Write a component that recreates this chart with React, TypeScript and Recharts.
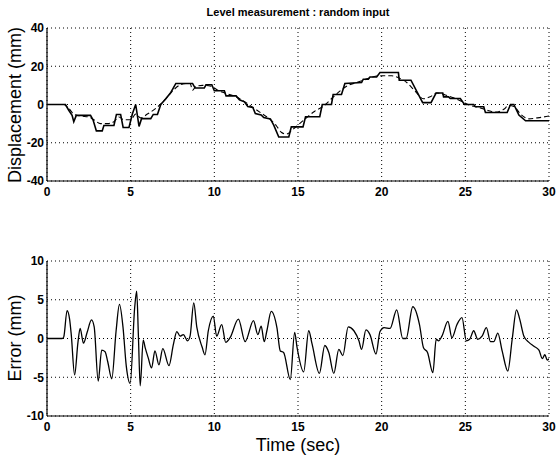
import { LineChart, Line, XAxis, YAxis, CartesianGrid } from 'recharts'

// time (s), displacement (mm) - measured level (stepwise solid line)
const measured: [number, number][] = [
  [0, 0], [1.1, 0], [1.3, -3], [1.5, -5.7], [1.6, -9], [1.75, -5.7], [2.6, -5.7], [2.75, -8],
  [2.95, -13.8], [3.3, -13.8], [3.4, -11], [4.0, -11], [4.15, -5.2], [4.4, -5.2], [4.55, -12],
  [4.9, -12], [5.1, -5], [5.3, 0], [5.5, -11.5], [5.65, -7.4], [6.2, -7.4], [6.35, -5.2],
  [6.6, -5.2], [6.8, 0], [7.1, 3], [7.4, 6.3], [7.7, 11], [8.7, 11], [8.85, 8.6], [9.4, 8.6],
  [9.5, 10.3], [9.85, 10.3], [10.0, 7.2], [10.6, 7.2], [10.7, 4.5], [11.3, 4.5], [11.5, 2.5],
  [11.8, 1.4], [12.0, -1], [12.3, -1.6], [12.45, -4.7], [12.8, -5.5], [12.95, -6.8], [13.35, -7.5],
  [13.55, -10.8], [13.85, -17], [14.45, -17], [14.6, -11.7], [15.3, -11.7], [15.45, -6.4],
  [16.3, -6.4], [16.45, 0], [17.0, 0], [17.1, 5.2], [17.6, 5.2], [17.8, 11], [18.8, 11.5],
  [18.9, 13.2], [19.2, 13.2], [19.3, 14.4], [19.7, 14.4], [19.9, 16.7], [21.0, 16.7], [21.05, 12.7],
  [21.75, 12.7], [22.45, 1], [22.95, 1], [23.25, 6], [23.65, 6], [23.7, 4], [24.0, 4], [24.1, 3.1],
  [24.7, 3.1], [24.95, 0], [25.5, 0], [25.6, -1.2], [26.1, -1.2], [26.2, -4.2], [27.5, -4.2],
  [27.7, 0], [27.9, 0], [28.2, -5.5], [28.6, -8.5], [30, -8.5],
]

// time (s), displacement (mm) - reference level (dashed line)
const reference: [number, number][] = [
  [0, 0], [1.0, 0], [1.3, -2], [1.6, -5], [2.0, -6], [2.5, -6.5], [2.8, -8], [3.2, -10], [3.6, -10],
  [4.0, -9], [4.3, -6.5], [4.6, -8], [5.0, -8], [5.3, -5], [5.6, -7], [6.0, -5], [6.5, -2], [7.0, 2],
  [7.5, 7], [7.9, 10], [8.3, 11], [8.55, 11], [8.7, 7.5], [8.9, 9.5], [9.3, 10], [9.8, 9.5],
  [10.3, 7], [10.8, 5.5], [11.3, 4], [11.8, 1.5], [12.3, -1.5], [12.8, -4.5], [13.3, -7.5],
  [13.7, -11], [14.0, -14.5], [14.3, -15.5], [14.7, -13], [15.1, -10], [15.5, -7], [16.0, -3.5],
  [16.5, -1], [17.0, 3], [17.5, 7], [18.0, 10], [18.5, 11.5], [19.0, 13], [19.5, 14.5], [20.0, 15],
  [20.6, 15], [21.0, 14], [21.5, 11.5], [22.0, 7], [22.5, 3], [22.9, 4], [23.3, 6], [23.8, 5],
  [24.3, 3.5], [24.8, 1.5], [25.3, -0.5], [25.8, -1.5], [26.3, -3], [26.8, -4], [27.3, -2.5],
  [27.6, -0.5], [27.9, -1], [28.3, -5], [28.8, -7.5], [29.3, -7], [29.7, -6.5], [30, -6],
]

// time (s), error (mm)
const errorTrace: [number, number][] = [
  [0, 0], [0.9, 0], [1.0, 0.2], [1.2, 3.6], [1.35, 2.5], [1.45, 0.5], [1.65, -4.7], [1.85, -0.5],
  [1.98, 1.3], [2.18, -0.6], [2.4, 0.8], [2.66, 2.4], [2.82, 1.5], [3.06, -5.5], [3.27, -1.5],
  [3.47, -1.7], [3.63, -3], [3.87, -5.2], [4.13, 1], [4.33, 4.4], [4.54, 1.5], [4.74, -3.6],
  [4.97, -5.8], [5.24, 4], [5.36, 6.1], [5.46, 0.5], [5.57, -6.1], [5.75, -0.2], [5.87, -1.2],
  [6.05, -2.5], [6.25, -3.8], [6.45, -1.6], [6.69, -3.4], [6.92, -1.3], [7.29, -3.5], [7.55, -0.8],
  [7.76, 0.9], [7.95, 0.3], [8.15, 0.5], [8.4, -0.3], [8.55, 0.3], [8.77, 4.6], [8.95, 1.5],
  [9.27, -1.1], [9.44, -2.1], [9.64, 1], [9.94, 2.9], [10.14, 0.3], [10.44, 1.8], [10.68, -0.5],
  [10.94, 0.1], [11.44, 2.5], [11.84, -0.4], [12.34, 2.3], [12.6, 0.5], [12.8, 1.6], [12.98, -0.4],
  [13.14, 1], [13.4, 3.5], [13.74, 1.4], [13.94, -1.6], [14.14, -1.8], [14.54, -5.3], [14.8, 0.8],
  [14.94, -1.1], [15.34, -4.3], [15.64, 1], [15.84, -0.7], [16.28, -4.5], [16.6, -0.9],
  [16.84, -1.8], [17.14, -4.5], [17.44, -1.4], [17.68, -2.2], [18.0, 1.5], [18.34, 1],
  [18.64, -0.3], [18.8, -1.4], [19.06, 1.1], [19.3, 0.5], [19.66, -2], [19.9, 0.9], [20.14, 1.4],
  [20.5, 1.3], [20.9, 3.7], [21.26, 0], [21.46, 0], [21.86, 4.1], [22.26, 1.8], [22.5, -1.2],
  [22.74, -1.8], [23.06, -4.4], [23.26, -0.1], [23.4, -0.3], [23.6, 0.3], [23.96, 2.2], [24.2, 0.1],
  [24.5, 1.8], [24.8, 2.7], [25.06, -0.3], [25.26, -0.1], [25.5, 1], [25.74, -0.1], [26.0, 0.3],
  [26.26, 1.4], [26.5, -0.4], [26.7, -0.4], [26.94, 0.7], [27.2, -1.6], [27.54, -4.2], [27.8, -0.1],
  [28.06, 3.7], [28.25, 2.5], [28.5, 0.3], [28.8, -0.5], [29.1, -1], [29.4, -1.5], [29.6, -2.6],
  [29.75, -2.1], [29.9, -2.8], [30, -2.6],
]

const timeTicks = [0, 5, 10, 15, 20, 25, 30]
const dispTicks = [-40, -20, 0, 20, 40]
const errTicks = [-10, -5, 0, 5, 10]

const toRows = (pts: [number, number][]) => pts.map(([t, v]) => ({ t, v }))

const font = 'Liberation Sans, Arial, sans-serif'
const tickStyle = { fontFamily: font, fontSize: 12, fontWeight: 'bold', fill: '#000' }
const frameLine = { stroke: '#000', strokeWidth: 1.2 }
const labelStyle: React.CSSProperties = {
  position: 'absolute',
  fontFamily: font,
  fontSize: 18,
  color: '#000',
  whiteSpace: 'nowrap',
}

export default function App() {
  return (
    <div style={{ position: 'absolute', left: 0, top: 0, width: 557, height: 459, background: '#fff', overflow: 'hidden' }}>
      <div style={{ ...labelStyle, fontSize: 11, fontWeight: 'bold', left: 0, width: 596, top: 6, textAlign: 'center' }}>
        Level measurement : random input
      </div>

      {/* top: displacement */}
      <div style={{ position: 'absolute', left: 0, top: 0 }}>
        <LineChart width={557} height={200} margin={{ top: 28, right: 8, bottom: 0, left: 0 }}>
          <CartesianGrid stroke="#000" strokeDasharray="1 3" strokeWidth={1} />
          <XAxis dataKey="t" type="number" domain={[0, 30]} ticks={timeTicks} height={19}
            tick={tickStyle} tickLine={false} tickSize={4} tickMargin={2}
            axisLine={frameLine} allowDataOverflow />
          <XAxis xAxisId="top" orientation="top" dataKey="t" type="number" domain={[0, 30]} height={0}
            tick={false} tickLine={false} axisLine={frameLine} />
          <YAxis type="number" domain={[-40, 40]} ticks={dispTicks} width={47}
            tick={tickStyle} tickLine={false} tickSize={2} tickMargin={1}
            axisLine={frameLine} allowDataOverflow />
          <YAxis yAxisId="right" orientation="right" type="number" domain={[-40, 40]} width={0}
            tick={false} tickLine={false} axisLine={frameLine} />
          <Line data={toRows(reference)} dataKey="v" type="monotone" stroke="#000" strokeWidth={1.1}
            strokeDasharray="5 3" dot={false} isAnimationActive={false} />
          <Line data={toRows(measured)} dataKey="v" stroke="#000" strokeWidth={1.6}
            dot={false} isAnimationActive={false} />
        </LineChart>
      </div>
      <div style={{ ...labelStyle, left: 15, top: 105, transform: 'translate(-50%, -50%) rotate(-90deg)' }}>
        Displacement (mm)
      </div>

      {/* bottom: error */}
      <div style={{ position: 'absolute', left: 0, top: 230 }}>
        <LineChart width={557} height={229} margin={{ top: 31, right: 8, bottom: 23, left: 0 }}>
          <CartesianGrid stroke="#000" strokeDasharray="1 3" strokeWidth={1} />
          <XAxis dataKey="t" type="number" domain={[0, 30]} ticks={timeTicks} height={20}
            tick={tickStyle} tickLine={false} tickSize={4} tickMargin={2}
            axisLine={frameLine} allowDataOverflow />
          <XAxis xAxisId="top" orientation="top" dataKey="t" type="number" domain={[0, 30]} height={0}
            tick={false} tickLine={false} axisLine={frameLine} />
          <YAxis type="number" domain={[-10, 10]} ticks={errTicks} width={47}
            tick={tickStyle} tickLine={false} tickSize={2} tickMargin={1}
            axisLine={frameLine} allowDataOverflow />
          <YAxis yAxisId="right" orientation="right" type="number" domain={[-10, 10]} width={0}
            tick={false} tickLine={false} axisLine={frameLine} />
          <Line data={toRows(errorTrace)} dataKey="v" type="monotone" stroke="#000" strokeWidth={1.3}
            dot={false} isAnimationActive={false} />
        </LineChart>
      </div>
      <div style={{ ...labelStyle, left: 15, top: 338, transform: 'translate(-50%, -50%) rotate(-90deg)' }}>
        Error (mm)
      </div>
      <div style={{ ...labelStyle, left: 298, top: 445, transform: 'translate(-50%, -50%)' }}>
        Time (sec)
      </div>
    </div>
  )
}
